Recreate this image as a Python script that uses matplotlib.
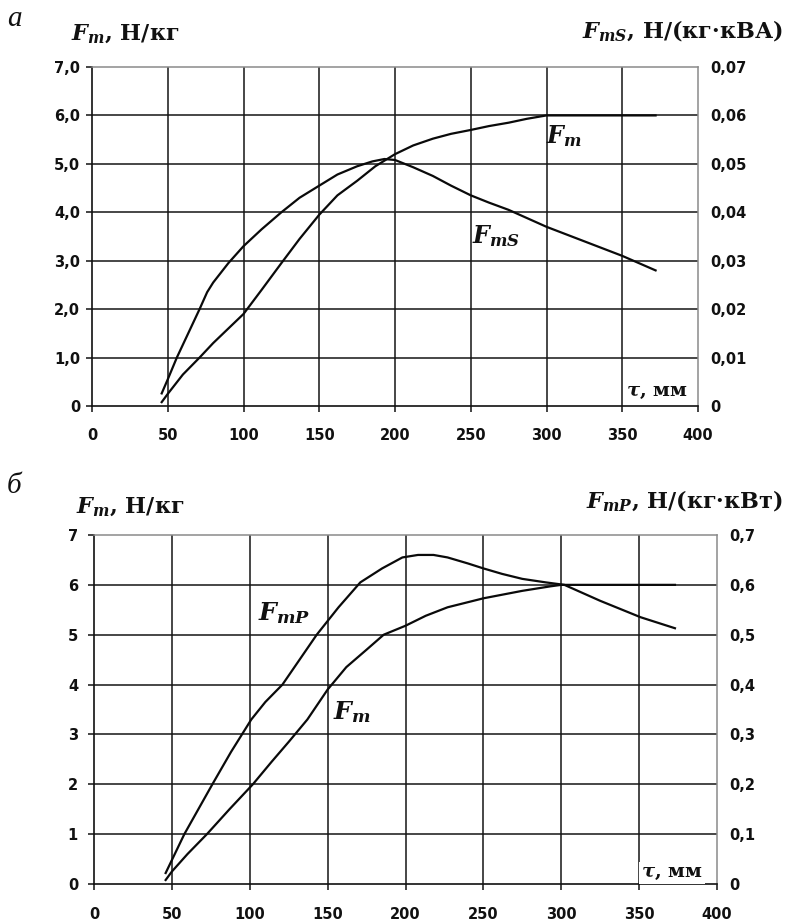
import matplotlib
matplotlib.use('Agg')
import matplotlib.pyplot as plt

plt.rcParams['mathtext.fontset'] = 'custom'
plt.rcParams['mathtext.it'] = 'DejaVu Serif:italic:bold'
plt.rcParams['mathtext.rm'] = 'DejaVu Serif:bold'
plt.rcParams['mathtext.bf'] = 'DejaVu Serif:bold'

# ---------------- data ----------------
x_ticks = [0, 50, 100, 150, 200, 250, 300, 350, 400]
x_ticklabels = ['0', '50', '100', '150', '200', '250', '300', '350', '400']

# panel a
a_left_ticks = [0, 1, 2, 3, 4, 5, 6, 7]
a_left_labels = ['0', '1,0', '2,0', '3,0', '4,0', '5,0', '6,0', '7,0']
a_right_ticks = [0, 0.01, 0.02, 0.03, 0.04, 0.05, 0.06, 0.07]
a_right_labels = ['0', '0,01', '0,02', '0,03', '0,04', '0,05', '0,06', '0,07']

a_fm_x = [46, 50, 60, 71, 80, 90, 100, 112, 125, 137, 150, 162, 175, 187, 200, 212,
          225, 237, 250, 262, 275, 287, 300, 372]
a_fm_y = [0.08, 0.25, 0.65, 1.0, 1.3, 1.6, 1.9, 2.4, 2.95, 3.45, 3.95, 4.35, 4.65, 4.95,
          5.2, 5.38, 5.52, 5.62, 5.7, 5.78, 5.85, 5.93, 6.0, 6.0]

a_fms_x = [46, 50, 56, 65, 71, 76, 80, 90, 100, 112, 125, 137, 150, 162, 175, 185, 193,
           200, 212, 225, 237, 250, 262, 275, 300, 325, 350, 372]
a_fms_y = [0.0026, 0.0055, 0.010, 0.016, 0.020, 0.0235, 0.0255, 0.0295, 0.033, 0.0365,
           0.040, 0.043, 0.0455, 0.0478, 0.0495, 0.0505, 0.051, 0.0508, 0.0493, 0.0475,
           0.0455, 0.0435, 0.042, 0.0405, 0.037, 0.034, 0.031, 0.028]

# panel б
b_left_ticks = [0, 1, 2, 3, 4, 5, 6, 7]
b_left_labels = ['0', '1', '2', '3', '4', '5', '6', '7']
b_right_ticks = [0, 0.1, 0.2, 0.3, 0.4, 0.5, 0.6, 0.7]
b_right_labels = ['0', '0,1', '0,2', '0,3', '0,4', '0,5', '0,6', '0,7']

b_fm_x = [46, 50, 60, 72.5, 87, 102, 114, 125, 137, 150, 162, 175, 186, 200, 213, 227,
          250, 275, 293, 300, 373]
b_fm_y = [0.08, 0.25, 0.6, 1.0, 1.5, 2.0, 2.45, 2.85, 3.3, 3.9, 4.35, 4.7, 5.0, 5.18,
          5.38, 5.55, 5.73, 5.88, 5.97, 6.0, 6.0]

b_fmp_x = [46, 50, 58, 67, 76, 88, 101, 110, 121, 132, 143, 157, 171, 185, 198, 208, 218,
           227, 240, 250, 262, 275, 290, 302, 325, 351, 373]
b_fmp_y = [0.022, 0.048, 0.10, 0.15, 0.20, 0.265, 0.33, 0.365, 0.40, 0.45, 0.50, 0.555,
           0.605, 0.633, 0.655, 0.66, 0.66, 0.655, 0.643, 0.633, 0.622, 0.612, 0.605,
           0.60, 0.568, 0.535, 0.513]

# ---------------- figure ----------------
W, H = 795, 921
fig = plt.figure(figsize=(W / 100, H / 100), dpi=100)


def px(x, y):
    return x / W, 1 - y / H


def panel(rect, left_ticks, left_labels, right_ticks, right_labels, rmax,
          ylabpad, xlabpad):
    ax = fig.add_axes(rect)
    ax.set_xlim(0, 400)
    ax.set_ylim(0, 7)
    for v in x_ticks[1:-1]:
        ax.axvline(v, color='#151515', lw=1.1, zorder=1)
    for v in left_ticks[1:-1]:
        ax.axhline(v, color='#151515', lw=1.1, zorder=1)
    ax.set_xticks(x_ticks)
    ax.set_xticklabels(x_ticklabels)
    ax.set_yticks(left_ticks)
    ax.set_yticklabels(left_labels)
    for sp in ['left', 'bottom']:
        ax.spines[sp].set_color('#111111')
        ax.spines[sp].set_linewidth(1.2)
    for sp in ['top', 'right']:
        ax.spines[sp].set_color('#8a8a8a')
        ax.spines[sp].set_linewidth(1.1)
    ax.tick_params(axis='both', direction='out', length=4.5, width=1.1,
                   color='#111111')
    ax.tick_params(axis='y', pad=ylabpad)
    ax.tick_params(axis='x', pad=xlabpad)
    for lab in ax.get_xticklabels() + ax.get_yticklabels():
        lab.set_fontfamily('DejaVu Sans')
        lab.set_fontweight('bold')
        lab.set_fontsize(10.5)
        lab.set_color('#111111')
    ax2 = ax.twinx()
    ax2.set_ylim(0, rmax)
    ax2.set_yticks(right_ticks)
    ax2.set_yticklabels(right_labels)
    ax2.tick_params(axis='y', length=0, pad=8.5)
    for sp in ax2.spines.values():
        sp.set_visible(False)
    for lab in ax2.get_yticklabels():
        lab.set_fontfamily('DejaVu Sans')
        lab.set_fontweight('bold')
        lab.set_fontsize(10.5)
        lab.set_color('#111111')
    return ax, ax2


axA, axA2 = panel([92 / W, 1 - 406 / H, (698 - 92) / W, (406 - 67) / H],
                  a_left_ticks, a_left_labels, a_right_ticks, a_right_labels, 0.07,
                  ylabpad=4, xlabpad=11)
axA.plot(a_fm_x, a_fm_y, color='#0a0a0a', lw=1.6, zorder=3)
axA2.plot(a_fms_x, a_fms_y, color='#0a0a0a', lw=1.6, zorder=3)

axB, axB2 = panel([94 / W, 1 - 884 / H, (717 - 94) / W, (884 - 535) / H],
                  b_left_ticks, b_left_labels, b_right_ticks, b_right_labels, 0.7,
                  ylabpad=7, xlabpad=12)
axB.plot(b_fm_x, b_fm_y, color='#0a0a0a', lw=1.6, zorder=3)
axB2.plot(b_fmp_x, b_fmp_y, color='#0a0a0a', lw=1.6, zorder=3)

# ---------------- texts ----------------
serif = dict(family='DejaVu Serif', weight='bold', color='#111111')

fig.text(*px(7, 26), 'а', family='Liberation Serif', style='italic', fontsize=21,
         color='#111111', va='baseline', ha='left')
fig.text(*px(7, 493), 'б', family='Liberation Serif', style='italic', fontsize=21,
         color='#111111', va='baseline', ha='left')

fig.text(*px(71, 40), r'$F_m$, Н/кг', fontsize=16, va='baseline', ha='left', **serif)
fig.text(*px(783, 38), r'$F_{mS}$, Н/(кг·кВА)', fontsize=16, va='baseline', ha='right', **serif)
fig.text(*px(76, 513), r'$F_m$, Н/кг', fontsize=16, va='baseline', ha='left', **serif)
fig.text(*px(783, 508), r'$F_{mP}$, Н/(кг·кВт)', fontsize=16, va='baseline', ha='right', **serif)

# curve labels
fig.text(*px(546, 143), r'$F_m$', fontsize=17, va='baseline', ha='left', **serif)
fig.text(*px(472, 243), r'$F_{mS}$', fontsize=17, va='baseline', ha='left', **serif)
fig.text(*px(258, 620), r'$F_{mP}$', fontsize=18, va='baseline', ha='left', **serif)
fig.text(*px(333, 719), r'$F_m$', fontsize=18, va='baseline', ha='left', **serif)

# tau labels
fig.text(*px(626, 396), r'$\tau$, мм', fontsize=14, va='baseline', ha='left', **serif)
fig.text(*px(641, 877), r'$\tau$, мм', fontsize=14, va='baseline', ha='left',
         bbox=dict(facecolor='white', edgecolor='none', pad=1.5), zorder=5, **serif)

fig.savefig('out.png', dpi=100, facecolor='white')
